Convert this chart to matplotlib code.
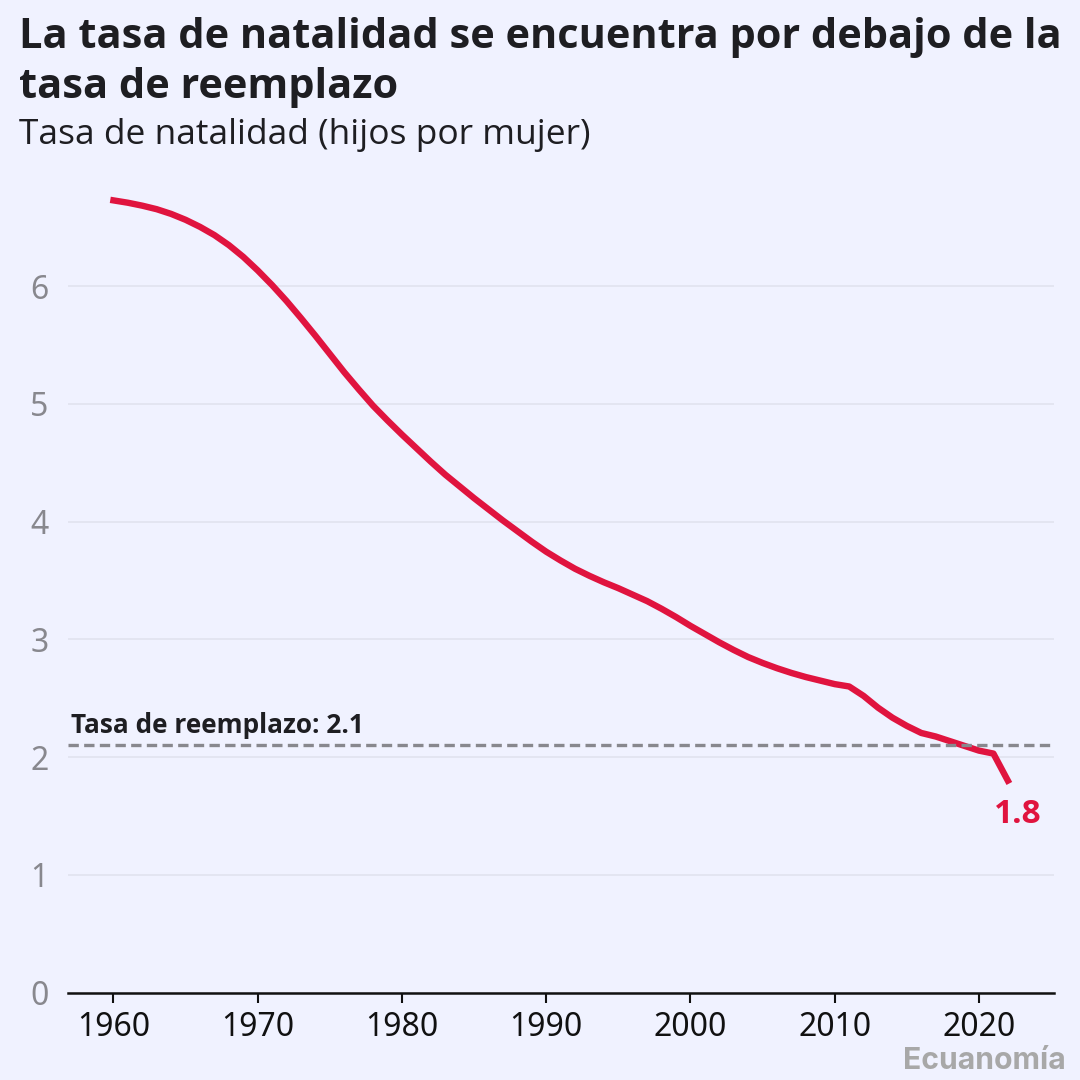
import numpy as np
import matplotlib
matplotlib.use('Agg')
import matplotlib.pyplot as plt

plt.rcParams['path.simplify'] = False

years = list(range(1960, 2023))
fertility = [6.73, 6.71, 6.685, 6.655, 6.615, 6.565, 6.505, 6.435, 6.35, 6.25,
             6.135, 6.01, 5.875, 5.73, 5.58, 5.425, 5.27, 5.125, 4.985, 4.86,
             4.74, 4.625, 4.51, 4.40, 4.30, 4.20, 4.105, 4.01, 3.92, 3.83,
             3.745, 3.67, 3.60, 3.54, 3.485, 3.435, 3.38, 3.325, 3.26, 3.19,
             3.115, 3.045, 2.975, 2.91, 2.85, 2.80, 2.755, 2.715, 2.68, 2.65,
             2.62, 2.60, 2.52, 2.42, 2.335, 2.265, 2.205, 2.175, 2.135, 2.095,
             2.055, 2.03, 1.80]
x_ticks = [1960, 1970, 1980, 1990, 2000, 2010, 2020]
y_ticks = [0, 1, 2, 3, 4, 5, 6]
replacement = 2.1

BG = '#F0F2FF'
RED = '#E0143F'
DARK = '#1E1E22'

fig = plt.figure(figsize=(10.8, 10.8), dpi=100, facecolor=BG)
# axes in pixels: left 68, right 1054, bottom 992.5, top 160
ax = fig.add_axes([68/1080, (1080-992.5)/1080, 986/1080, 832.5/1080], facecolor=BG)

ax.set_xlim(1956.85, 2025.2)
ax.set_ylim(0, 832.5/117.7)

ax.grid(axis='y', color='#E0E2EE', lw=1.1, zorder=1)
ax.set_axisbelow(True)
ax.plot(years, fertility, color=RED, lw=4.6, solid_joinstyle='round', solid_capstyle='projecting', zorder=3)
# dashed line goes over the red one
ax.axhline(replacement, color='#88888E', lw=2.4, dashes=(3.1, 1.6), zorder=4)

for s in ['top', 'right', 'left']:
    ax.spines[s].set_visible(False)
ax.spines['bottom'].set_linewidth(1.8)
ax.spines['bottom'].set_color('#111111')

ax.set_xticks(x_ticks)
ax.set_yticks(y_ticks)
ax.tick_params(axis='x', length=7.5, width=1.5, color='#111111', labelsize=23,
               labelcolor='#111111', pad=6)
ax.tick_params(axis='y', length=0, labelsize=23, labelcolor='#88888E', pad=14)
for lab in ax.get_xticklabels() + ax.get_yticklabels():
    lab.set_fontfamily('Noto Sans')

ax.text(1957.05, replacement + 0.05, 'Tasa de reemplazo: 2.1', family='Open Sans', weight='bold',
        fontsize=18.9, color=DARK, va='bottom', ha='left')
ax.text(2022.7, 1.51, '1.8', family='Open Sans', weight='bold', fontsize=24,
        color=RED, ha='center', va='center')

fig.text(19/1080, 1-38/1080, 'La tasa de natalidad se encuentra por debajo de la', family='Open Sans',
         weight='bold', fontsize=29.9, color=DARK, va='center', ha='left')
fig.text(19/1080, 1-87/1080, 'tasa de reemplazo', family='Open Sans',
         weight='bold', fontsize=29.9, color=DARK, va='center', ha='left')
fig.text(19/1080, 1-135/1080, 'Tasa de natalidad (hijos por mujer)', family='Open Sans',
         fontsize=25.5, color=DARK, va='center', ha='left')
fig.text(1066/1080, 1-1061/1080, 'Ecuanomía', family='Inter', weight='bold',
         fontsize=21.7, color='#A8A8A8', va='center', ha='right')

fig.savefig('out.png', dpi=100, facecolor=BG)
